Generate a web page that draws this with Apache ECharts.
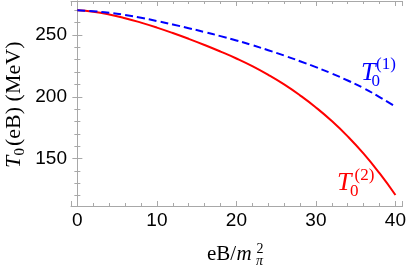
<!DOCTYPE html>
<html><head><meta charset="utf-8">
<script src="https://cdn.jsdelivr.net/npm/echarts@6/dist/echarts.min.js"></script>
<style>html,body{margin:0;padding:0;background:#fff}#c{width:409px;height:266px}</style>
</head><body><div id="c"></div>
<script>
// ---- data ----
const eB   = [0,2,4,6,8,10,12,14,16,18,20,22,24,26,28,30,32,34,36,38,40];
const T0_1 = [270,269.2,268,266.2,264,261.3,258.5,255.5,252.4,249.1,245.6,241.8,237.7,233.4,228.8,224,218.8,213.2,207,199.8,192];
const T0_2 = [270,268.8,266.6,263.6,260,256,251.6,246.9,241.9,236.6,231,224.8,217.8,210,201.2,191.4,180.4,168,154,138.2,120.6];
const xTickLabels = [0,10,20,30,40];
const yTickLabels = [150,200,250];

const FRAME = '#a8a8a8';
const SERIF = '"Liberation Serif","Times New Roman",serif';
const SANS = '"Liberation Sans",Arial,sans-serif';

function isLabel(v, list){ return list.some(t => Math.abs(v - t) < 1e-6); }
function txt(x, base, s, size, color, italic){
  return {type:'text', x:x, y: base - 0.34*size, silent:true,
    style:{text:s, fontFamily:SERIF, fontSize:size, fontStyle: italic?'italic':'normal',
      fill:color, verticalAlign:'middle', align:'left'}};
}

const axCommonX = {type:'value', min:-0.8, max:40.9, splitNumber:4,
  axisLine:{show:true, lineStyle:{color:FRAME, width:1}},
  axisTick:{show:true, inside:true, length:5, lineStyle:{color:FRAME}},
  minorTick:{show:true, splitNumber:5, length:3, lineStyle:{color:FRAME}},
  splitLine:{show:false}};
const axCommonY = {type:'value', min:111.7, max:277.5, splitNumber:3,
  axisLine:{show:true, lineStyle:{color:FRAME, width:1}},
  axisTick:{show:true, inside:true, length:5, lineStyle:{color:FRAME}},
  minorTick:{show:true, splitNumber:5, length:3, lineStyle:{color:FRAME}},
  splitLine:{show:false}};

const chart = echarts.init(document.getElementById('c'), null, {renderer:'canvas'});
chart.setOption({
  animation:false,
  backgroundColor:'#fff',
  grid:{left:71, right:5, top:1, bottom:60, containLabel:false},
  xAxis:[
    Object.assign({}, axCommonX, {position:'bottom',
      axisLabel:{show:true, margin:5, color:'#000', fontFamily:SANS, fontSize:19,
        showMinLabel:true, showMaxLabel:true,
        formatter:v => isLabel(v, xTickLabels) ? String(Math.round(v)) : ''}}),
    Object.assign({}, axCommonX, {position:'top', axisLabel:{show:false}})
  ],
  yAxis:[
    Object.assign({}, axCommonY, {position:'left',
      axisLabel:{show:true, margin:4, color:'#000', fontFamily:SANS, fontSize:19,
        formatter:v => isLabel(v, yTickLabels) ? String(Math.round(v)) : ''}}),
    Object.assign({}, axCommonY, {position:'right', axisLabel:{show:false}})
  ],
  series:[
    {type:'line', name:'T0(2)', xAxisIndex:0, yAxisIndex:0, showSymbol:false, smooth:true,
     data: eB.map((x,i)=>[x, T0_2[i]]), lineStyle:{color:'#ff0000', width:2}},
    {type:'line', name:'T0(1)', xAxisIndex:0, yAxisIndex:0, showSymbol:false, smooth:true,
     data: eB.map((x,i)=>[x, T0_1[i]]), lineStyle:{color:'#0000ff', width:2, type:[8,4]}}
  ],
  graphic:[
    // curve labels
    txt(361, 82, 'T', 26, '#0000ff', true),
    txt(376, 70.5, '(1)', 17, '#0000ff', false),
    txt(371.5, 87, '0', 17, '#0000ff', false),
    txt(337, 192, 'T', 26, '#ff0000', true),
    txt(354.5, 181.5, '(2)', 17, '#ff0000', false),
    txt(350, 197, '0', 17, '#ff0000', false),
    // x axis title
    txt(207, 261.5, 'eB/', 21, '#000', false),
    txt(236.5, 261.5, 'm', 21, '#000', true),
    txt(256.5, 254, '2', 14, '#000', false),
    txt(256, 266, 'π', 14, '#000', true),
    // y axis title (rotated)
    {type:'group', x:21.5, y:168, rotation:Math.PI/2, silent:true, children:[
      txt(0, 0, 'T', 22, '#000', true),
      txt(12.5, 4, '0', 15, '#000', false),
      txt(22, 0, '(eB) (MeV)', 22, '#000', false)
    ]}
  ]
});
</script></body></html>
